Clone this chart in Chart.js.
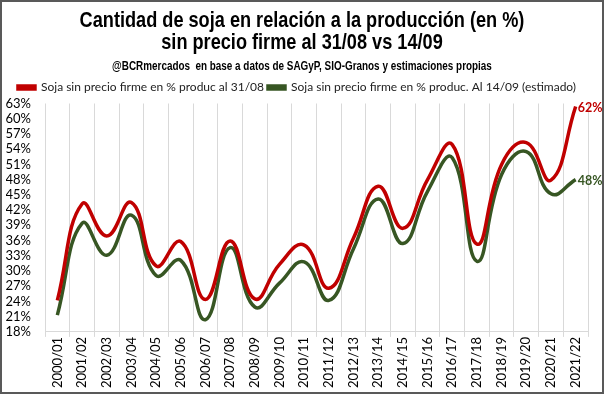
<!DOCTYPE html>
<html>
<head>
<meta charset="utf-8">
<script src="https://cdn.jsdelivr.net/npm/chart.js@4/dist/chart.umd.min.js"></script>
<style>
  html, body { margin: 0; padding: 0; background: #fff; }
  #wrap { width: 600px; height: 390px; border: 2px solid #595959; position: relative; }
  #chart { position: absolute; left: 0; top: 0; }
  .hdr { position: absolute; left: 0; width: 600px; text-align: center; color: #000;
         font-family: "Liberation Sans", Arial, sans-serif; font-weight: bold;
         white-space: nowrap; transform: scaleX(0.825); transform-origin: 300px 0; }
  #t1 { top: 6.5px; font-size: 22px; line-height: 22.7px; }
  #sub { top: 56.8px; font-size: 12px; line-height: 14px; }
</style>
</head>
<body>
<div id="wrap">
  <canvas id="chart" width="600" height="390"></canvas>
  <div class="hdr" id="t1">Cantidad de soja en relación a la producción (en %)<br>sin precio firme al 31/08 vs 14/09</div>
  <div class="hdr" id="sub">@BCRmercados&nbsp; en base a datos de SAGyP, SIO-Granos y estimaciones propias</div>
</div>
<script>
// campañas
var campaigns = ['2000/01','2001/02','2002/03','2003/04','2004/05','2005/06','2006/07','2007/08',
  '2008/09','2009/10','2010/11','2011/12','2012/13','2013/14','2014/15','2015/16','2016/17',
  '2017/18','2018/19','2019/20','2020/21','2021/22'];

// % de la produccion sin precio firme al 31/08
var sinPrecio3108 = [24.2, 43.2, 36.9, 43.5, 31.0, 35.8, 24.4, 35.9, 24.5, 31.3, 35.1,
  26.6, 36.5, 46.7, 38.4, 48.0, 54.9, 35.3, 51.0, 55.3, 47.9, 62.4];

// % de la produccion sin precio firme al 14/09 (estimado)
var sinPrecio1409 = [21.3, 39.4, 33.1, 41.0, 29.1, 32.1, 20.4, 34.6, 22.9, 27.6, 31.8,
  24.2, 34.4, 44.2, 35.4, 45.7, 52.3, 31.9, 49.0, 53.5, 45.2, 48.0];

var seriesNames = ['Soja sin precio firme en % produc al 31/08',
  'Soja sin precio firme en % produc. Al 14/09 (estimado)'];

var yTicks = { min: 18, max: 63, step: 3 };

// etiqueta del ultimo valor de cada serie
var lastValueLabel = {
  id: 'lastValueLabel',
  afterDatasetsDraw: function(chart) {
    var ctx = chart.ctx;
    chart.data.datasets.forEach(function(ds, i) {
      var meta = chart.getDatasetMeta(i);
      var pt = meta.data[meta.data.length - 1];
      var val = ds.data[ds.data.length - 1];
      ctx.save();
      ctx.font = 'bold 12.5px Lato';
      ctx.fillStyle = ds.borderColor;
      ctx.textAlign = 'left';
      ctx.textBaseline = 'middle';
      ctx.fillText(Math.round(val) + '%', pt.x + 2, pt.y + 1);
      ctx.restore();
    });
  }
};

var ctx = document.getElementById('chart').getContext('2d');
var chart = new Chart(ctx, {
  type: 'line',
  data: {
    labels: campaigns,
    datasets: [{
      label: seriesNames[0],
      data: sinPrecio3108,
      borderColor: '#C00000',
      backgroundColor: '#C00000',
      borderWidth: 3.5,
      pointRadius: 0,
      tension: 0.45
    }, {
      label: seriesNames[1],
      data: sinPrecio1409,
      borderColor: '#375623',
      backgroundColor: '#375623',
      borderWidth: 3.5,
      pointRadius: 0,
      tension: 0.45
    }]
  },
  options: {
    responsive: false,
    animation: false,
    layout: { padding: { left: 4, right: 14, bottom: 4, top: 75.5 } },
    plugins: {
      title: { display: false },
      legend: {
        position: 'top',
        labels: {
          color: '#222',
          font: { family: 'Lato', size: 12 },
          boxWidth: 17,
          boxHeight: 3,
          padding: 4
        }
      },
      tooltip: { enabled: false }
    },
    scales: {
      x: {
        offset: true,
        grid: { display: true, offset: true, color: '#d9d9d9', tickLength: 5 },
        border: { color: '#d9d9d9' },
        ticks: {
          color: '#000',
          font: { family: 'Lato', size: 13 },
          minRotation: 90,
          maxRotation: 90,
          autoSkip: false,
          padding: 0
        }
      },
      y: {
        min: yTicks.min,
        max: yTicks.max,
        grid: { display: false },
        border: { display: false },
        afterFit: function(scale) { scale.width = 39; },
        ticks: {
          stepSize: yTicks.step,
          autoSkip: false,
          color: '#000',
          font: { family: 'Lato', size: 13, lineHeight: 1 },
          padding: 6,
          callback: function(v) { return v + '%'; }
        }
      }
    }
  },
  plugins: [lastValueLabel]
});
</script>
</body>
</html>
